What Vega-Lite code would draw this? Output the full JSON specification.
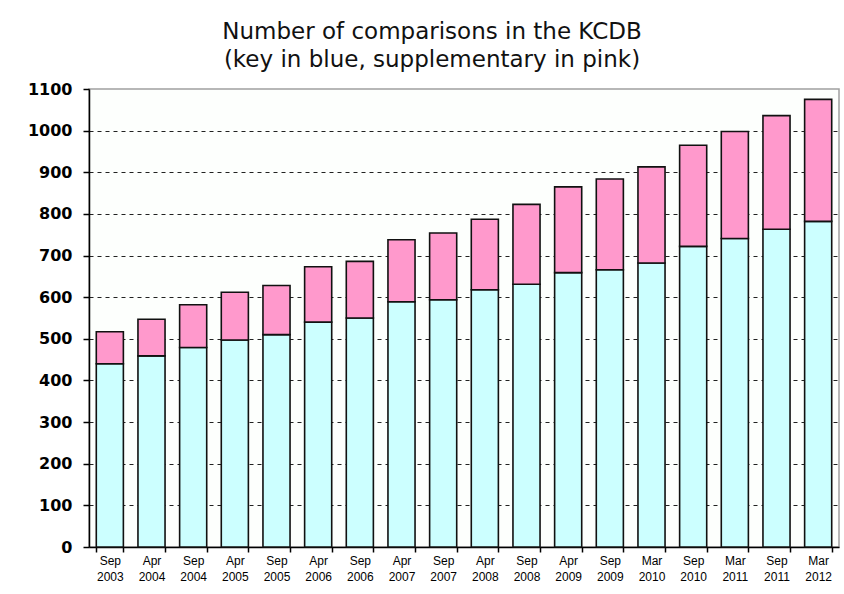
{
  "$schema": "https://vega.github.io/schema/vega-lite/v6.json",
  "autosize": "none",
  "width": 750,
  "height": 458,
  "padding": {"left": 89, "top": 89, "right": 5, "bottom": 47},
  "background": "white",
  "title": {
    "text": ["Number of comparisons in the KCDB", "(key in blue, supplementary in pink)"],
    "font": "DejaVu Sans",
    "fontSize": 23,
    "fontWeight": "normal",
    "color": "#111111",
    "lineHeight": 28,
    "anchor": "middle",
    "dx": -32,
    "offset": 9
  },
  "config": {
    "view": {"stroke": "#a0a0a0", "strokeWidth": 1.5, "fill": "#fdfffd"}
  },
  "data": {
    "values": [
      {"period": "Sep 2003", "type": "key", "count": 440},
      {"period": "Sep 2003", "type": "supplementary", "count": 77},
      {"period": "Apr 2004", "type": "key", "count": 459},
      {"period": "Apr 2004", "type": "supplementary", "count": 88},
      {"period": "Sep 2004", "type": "key", "count": 479},
      {"period": "Sep 2004", "type": "supplementary", "count": 103},
      {"period": "Apr 2005", "type": "key", "count": 497},
      {"period": "Apr 2005", "type": "supplementary", "count": 115},
      {"period": "Sep 2005", "type": "key", "count": 510},
      {"period": "Sep 2005", "type": "supplementary", "count": 118},
      {"period": "Apr 2006", "type": "key", "count": 540},
      {"period": "Apr 2006", "type": "supplementary", "count": 133},
      {"period": "Sep 2006", "type": "key", "count": 550},
      {"period": "Sep 2006", "type": "supplementary", "count": 136},
      {"period": "Apr 2007", "type": "key", "count": 589},
      {"period": "Apr 2007", "type": "supplementary", "count": 149},
      {"period": "Sep 2007", "type": "key", "count": 594},
      {"period": "Sep 2007", "type": "supplementary", "count": 160},
      {"period": "Apr 2008", "type": "key", "count": 618},
      {"period": "Apr 2008", "type": "supplementary", "count": 169},
      {"period": "Sep 2008", "type": "key", "count": 631},
      {"period": "Sep 2008", "type": "supplementary", "count": 192},
      {"period": "Apr 2009", "type": "key", "count": 659},
      {"period": "Apr 2009", "type": "supplementary", "count": 206},
      {"period": "Sep 2009", "type": "key", "count": 666},
      {"period": "Sep 2009", "type": "supplementary", "count": 218},
      {"period": "Mar 2010", "type": "key", "count": 682},
      {"period": "Mar 2010", "type": "supplementary", "count": 231},
      {"period": "Sep 2010", "type": "key", "count": 722},
      {"period": "Sep 2010", "type": "supplementary", "count": 243},
      {"period": "Mar 2011", "type": "key", "count": 741},
      {"period": "Mar 2011", "type": "supplementary", "count": 257},
      {"period": "Sep 2011", "type": "key", "count": 763},
      {"period": "Sep 2011", "type": "supplementary", "count": 273},
      {"period": "Mar 2012", "type": "key", "count": 782},
      {"period": "Mar 2012", "type": "supplementary", "count": 293}
    ]
  },
  "mark": {"type": "bar", "stroke": "#111111", "strokeWidth": 1.6},
  "encoding": {
    "x": {
      "field": "period",
      "type": "nominal",
      "sort": null,
      "scale": {"paddingInner": 0.35, "paddingOuter": 0.175},
      "axis": {
        "title": null,
        "labelAngle": 0,
        "labelExpr": "split(datum.label, ' ')",
        "labelFont": "Liberation Sans",
        "labelFontSize": 12,
        "labelColor": "#000000",
        "labelLineHeight": 16,
        "labelPadding": 3,
        "labelBaseline": "top",
        "tickBand": "extent",
        "tickSize": 5,
        "tickColor": "#000000",
        "tickWidth": 1.5,
        "domainColor": "#000000",
        "domainWidth": 1.5,
        "grid": false
      }
    },
    "y": {
      "field": "count",
      "type": "quantitative",
      "stack": "zero",
      "scale": {"domain": [0, 1100], "nice": false},
      "axis": {
        "title": null,
        "format": "d",
        "values": [0, 100, 200, 300, 400, 500, 600, 700, 800, 900, 1000, 1100],
        "labelFont": "DejaVu Sans",
        "labelFontSize": 16,
        "labelFontWeight": "bold",
        "labelColor": "#000000",
        "labelPadding": 11,
        "tickSize": 6,
        "tickColor": "#000000",
        "tickWidth": 1.5,
        "domainColor": "#000000",
        "domainWidth": 1.5,
        "grid": true,
        "gridColor": {"condition": {"test": "datum.value === 1100 || datum.value === 0", "value": "transparent"}, "value": "#222222"},
        "gridDash": [4, 4],
        "gridWidth": 1.2
      }
    },
    "color": {
      "field": "type",
      "type": "nominal",
      "scale": {"domain": ["key", "supplementary"], "range": ["#ccffff", "#ff99cc"]},
      "legend": null
    },
    "order": {"field": "type", "sort": "ascending"}
  }
}
